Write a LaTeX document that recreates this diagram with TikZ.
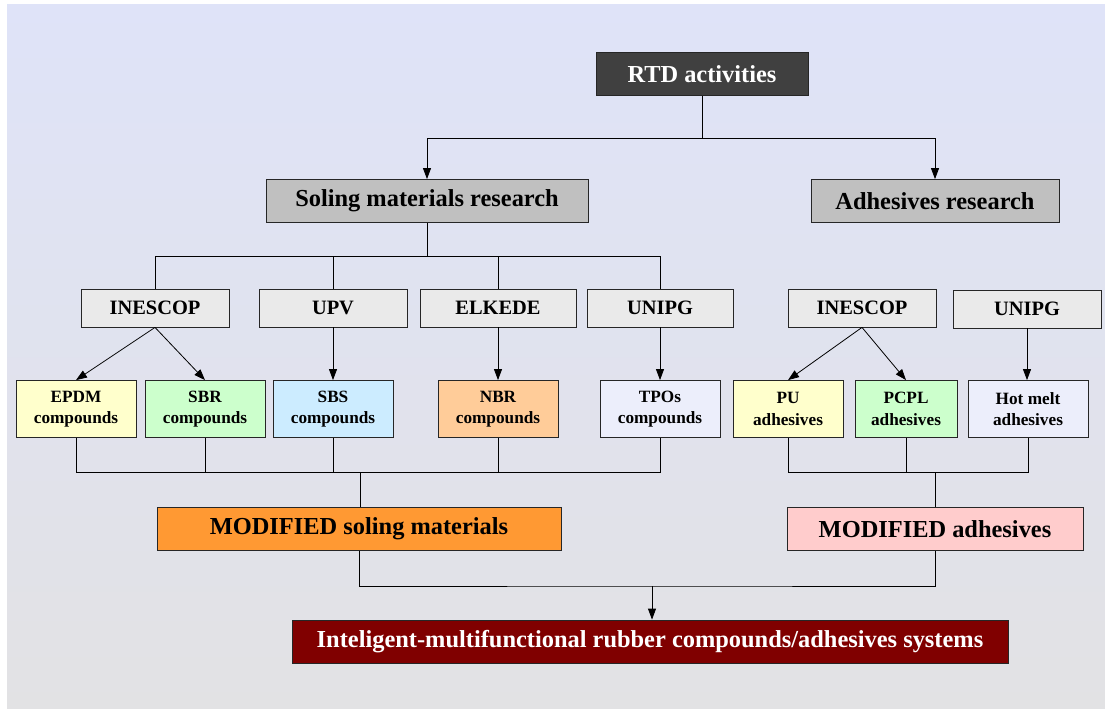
\documentclass[tikz,border=0pt]{standalone}
\usepackage{fontspec}
\setmainfont{Liberation Serif}
\usepackage{xcolor}
\usetikzlibrary{shapes, arrows.meta, positioning, calc}

\definecolor{bgtop}{HTML}{DFE3F8}
\definecolor{bgbot}{HTML}{E2E2E4}
\definecolor{rtdgray}{HTML}{404040}
\definecolor{resgray}{HTML}{C0C0C0}
\definecolor{labgray}{HTML}{EAEAEA}
\definecolor{cyellow}{HTML}{FFFFCC}
\definecolor{cgreen}{HTML}{CCFFCC}
\definecolor{cblue}{HTML}{CCECFF}
\definecolor{corange}{HTML}{FFCC99}
\definecolor{clavender}{HTML}{ECEEFB}
\definecolor{modorange}{HTML}{FF9933}
\definecolor{modpink}{HTML}{FFCCCC}
\definecolor{darkred}{HTML}{800000}

\begin{document}
\begin{tikzpicture}[x=1bp, y=-1bp, line width=0.8bp,
  box/.style={rectangle, draw=black!85, align=center, inner sep=0pt, font=\bfseries\fontsize{24.5}{28}\selectfont},
  head/.style={box, minimum height=43bp},
  lab/.style={box, fill=labgray, minimum height=38bp, font=\bfseries\fontsize{20.5}{24}\selectfont},
  leaf/.style={box, minimum height=57bp, font=\bfseries\fontsize{17.3}{21.5}\selectfont},
  link/.style={-{Triangle[width=8bp,length=11bp]}}]

% background
\useasboundingbox (0,0) rectangle (1105,709);
\fill[white] (0,0) rectangle (1105,709);
\shade[top color=bgtop, bottom color=bgbot] (7,5) rectangle (1105,709);

% top levels
\node[head, fill=rtdgray, text=white, minimum width=212bp] (rtd) at (702,74) {RTD activities};
\node[head, fill=resgray, minimum width=322bp] (soling) at (427,201) {Soling materials research};
\node[head, fill=resgray, minimum width=248bp] (adhres) at (935,201) {Adhesives research};

% partners
\node[lab, minimum width=148bp] (inescop) at (155,308) {INESCOP};
\node[lab, minimum width=148bp] (upv) at (333,308) {UPV};
\node[lab, minimum width=156bp] (elkede) at (498,308) {ELKEDE};
\node[lab, minimum width=146bp] (unipg) at (660,308) {UNIPG};
\node[lab, minimum width=148bp] (inescopb) at (862,308) {INESCOP};
\node[lab, minimum width=148bp] (unipgb) at (1027,309) {UNIPG};

% materials
\node[leaf, fill=cyellow, minimum width=120bp] (epdm) at (76,409) {EPDM\\compounds};
\node[leaf, fill=cgreen, minimum width=120bp] (sbr) at (205,409) {SBR\\compounds};
\node[leaf, fill=cblue, minimum width=120bp] (sbs) at (333,409) {SBS\\compounds};
\node[leaf, fill=corange, minimum width=120bp] (nbr) at (498,409) {NBR\\compounds};
\node[leaf, fill=clavender, minimum width=120bp] (tpos) at (660,409) {TPOs\\compounds};
\node[leaf, fill=cyellow, minimum width=110bp] (pu) at (788,409) {PU\\adhesives};
\node[leaf, fill=cgreen, minimum width=102bp] (pcpl) at (906,409) {PCPL\\adhesives};
\node[leaf, fill=clavender, minimum width=120bp] (hotmelt) at (1028,409) {Hot melt\\adhesives};

% results
\node[head, fill=modorange, minimum width=404bp] (modsol) at (359,529) {MODIFIED soling materials};
\node[head, fill=modpink, minimum width=296bp] (modadh) at (935,529) {MODIFIED adhesives};
\node[head, fill=darkred, text=white, minimum width=716bp] (final) at (650,641.5) {Inteligent-multifunctional rubber compounds/adhesives systems};

% junction points
\coordinate (split1) at (702,138);
\coordinate (split2) at (427,256);
\coordinate (join1) at (360,472);
\coordinate (join2) at (935,472);
\coordinate (join3) at (652,586);

% connectors
\draw (rtd) -- (split1);
\draw[link] (split1) -| (soling);
\draw[link] (split1) -| (adhres);

\draw (soling) -- (split2);
\draw (split2) -| (inescop);
\draw (split2) -| (upv);
\draw (split2) -| (elkede);
\draw (split2) -| (unipg);

\draw[link] (inescop.south) -- (epdm.north);
\draw[link] (inescop.south) -- (sbr.north);
\draw[link] (upv) -- (sbs);
\draw[link] (elkede) -- (nbr);
\draw[link] (unipg) -- (tpos);
\draw[link] (inescopb.south) -- (pu.north);
\draw[link] (inescopb.south) -- (pcpl.north);
\draw[link] (unipgb.south) -- (unipgb.south |- hotmelt.north);

\draw (epdm) |- (join1);
\draw (tpos) |- (join1);
\draw (sbr) -- (sbr |- join1);
\draw (sbs) -- (sbs |- join1);
\draw (nbr) -- (nbr |- join1);
\draw (join1) -- (join1 |- modsol.north);

\draw (pu) |- (join2);
\draw (hotmelt) |- (join2);
\draw (pcpl) -- (pcpl |- join2);
\draw (join2) -- (modadh);

\draw (modsol) |- (join3) -| (modadh);
\draw[link] (join3) -- (join3 |- final.north);

\end{tikzpicture}
\end{document}
